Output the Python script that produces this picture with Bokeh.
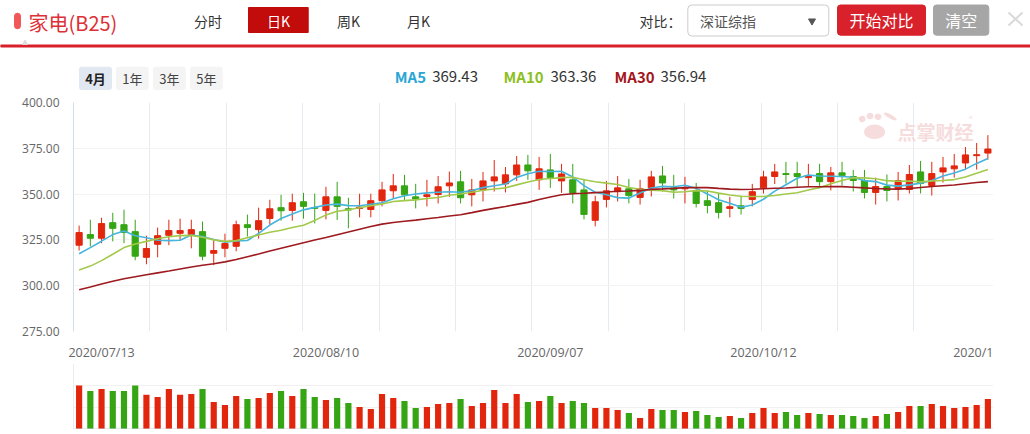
import numpy as np
from bokeh.plotting import figure
from bokeh.layouts import column
from bokeh.models import Range1d, FixedTicker, Span, ColumnDataSource, PrintfTickFormatter
from bokeh.embed import file_html
from bokeh.resources import INLINE
from bokeh.core.properties import value

# ---------------- data ----------------
tick_index = [2, 22, 42, 61, 81]
tick_labels = ["2020/07/13", "2020/08/10", "2020/09/07", "2020/10/12", "2020/1"]
price_ticks = [275, 300, 325, 350, 375, 400]

opens = [322.1, 327.9, 325.9, 334.4, 333.3, 329.5, 315.5, 322.6, 327.5, 328.6,
         327.9, 329.5, 317.7, 320.4, 321.5, 333.3, 330.6, 336.7, 342.6, 341.1,
         345.8, 342.7, 341.1, 348.5, 342.0, 342.2, 341.6, 346.4, 351.8, 354.5,
         348.5, 348.7, 349.8, 354.5, 356.7, 349.6, 352.3, 357.2, 355.6, 360.5,
         365.9, 357.8, 363.2, 357.2, 357.8, 352.3, 335.7, 347.1, 351.3, 352.9,
         348.2, 353.4, 359.9, 353.4, 352.9, 351.8, 346.4, 345.3, 342.2, 343.6,
         347.1, 353.4, 359.6, 361.2, 361.2, 359.0, 361.2, 356.8, 361.6, 359.6,
         357.4, 350.9, 354.1, 353.0, 352.5, 362.1, 354.7, 362.1, 363.8, 367.0,
         371.0, 372.4]
highs = [332.8, 336.0, 337.1, 339.8, 341.5, 336.0, 327.3, 331.7, 336.0, 336.6,
         336.0, 335.0, 325.2, 328.4, 335.5, 338.8, 342.6, 346.9, 349.6, 350.2,
         350.7, 350.3, 354.0, 356.7, 348.0, 350.2, 350.2, 356.7, 361.0, 360.5,
         355.6, 357.8, 359.9, 362.3, 362.7, 358.3, 362.1, 368.6, 364.8, 370.8,
         371.4, 370.3, 371.9, 366.5, 366.5, 358.3, 349.1, 357.2, 359.9, 358.3,
         357.8, 362.7, 365.4, 360.5, 359.4, 356.1, 351.8, 350.2, 348.5, 349.1,
         355.6, 362.7, 366.5, 367.6, 367.6, 366.5, 366.5, 364.8, 367.6, 363.2,
         363.2, 359.0, 360.7, 362.1, 365.9, 368.1, 367.6, 370.3, 371.9, 375.7,
         377.9, 382.2]
lows = [319.2, 321.4, 323.2, 324.2, 323.2, 313.9, 311.7, 315.5, 322.1, 324.8,
        320.4, 313.9, 311.2, 315.5, 318.8, 326.8, 325.7, 333.3, 335.5, 335.5,
        336.6, 334.0, 336.2, 335.9, 331.3, 337.3, 337.3, 343.3, 347.6, 346.7,
        342.2, 343.3, 344.9, 348.5, 344.9, 343.3, 346.0, 351.4, 350.9, 357.2,
        357.8, 352.3, 353.4, 350.7, 344.9, 336.2, 332.4, 342.7, 346.0, 344.9,
        344.3, 348.7, 351.4, 347.6, 344.9, 342.7, 339.5, 336.7, 337.3, 338.9,
        343.3, 350.3, 355.5, 355.8, 354.1, 354.1, 354.1, 352.0, 354.7, 351.4,
        347.6, 344.3, 346.0, 346.5, 350.3, 350.3, 349.2, 356.3, 359.0, 363.4,
        363.4, 368.8]
closes = [329.0, 325.9, 333.9, 331.3, 329.1, 316.1, 320.3, 327.3, 330.1, 330.1,
          330.6, 316.1, 319.2, 323.0, 333.3, 331.8, 335.5, 342.0, 340.9, 345.3,
          343.3, 342.2, 348.5, 343.3, 341.3, 342.9, 346.4, 352.3, 354.5, 349.6,
          347.3, 349.6, 354.0, 356.1, 348.0, 352.3, 357.2, 359.4, 360.5, 365.9,
          362.7, 363.8, 358.9, 361.0, 350.5, 338.9, 345.8, 351.8, 353.4, 349.2,
          352.9, 359.4, 356.1, 352.3, 353.4, 344.9, 343.8, 340.0, 343.1, 342.2,
          351.3, 359.4, 362.1, 360.7, 359.6, 360.1, 356.8, 361.6, 360.1, 357.4,
          350.9, 354.1, 352.0, 357.4, 360.7, 355.8, 361.2, 364.3, 365.4, 371.4,
          371.5, 374.6]
volumes = [131, 115, 121, 115, 115, 131, 104, 97, 121, 104,
           106, 121, 82, 73, 100, 91, 94, 109, 115, 100,
           121, 97, 88, 94, 79, 67, 61, 106, 94, 85,
           64, 67, 76, 79, 91, 70, 79, 118, 79, 106,
           82, 85, 100, 79, 85, 79, 64, 64, 58, 49,
           34, 61, 58, 58, 52, 55, 43, 37, 40, 34,
           49, 64, 49, 52, 43, 49, 46, 43, 43, 40,
           34, 40, 46, 52, 70, 70, 76, 70, 64, 67,
           73, 91]
# moving averages before enough closes are on screen
ma5_head = [317.4, 320.8, 324.3, 327.9]
ma10_head = [308.6, 310.7, 313.7, 317.2, 320.8, 322.8, 324.2, 325.6, 326.7]
ma30_head = [297.8, 299.3, 300.9, 302.4, 303.8, 304.9, 306.0, 307.0, 308.0, 309.1,
             310.2, 311.2, 312.0, 313.0, 314.3, 315.8, 317.3, 318.9, 320.4, 321.9,
             323.4, 324.9, 326.3, 327.8, 329.3, 330.8, 332.3, 333.6, 334.5]
legend_names = ["MA5", "MA10", "MA30"]
legend_values = ["369.43", "363.36", "356.94"]
period_buttons = ["4月", "1年", "3年", "5年"]
tabs = ["分时", "日K", "周K", "月K"]

# ---------------- style ----------------
CJK = "Noto Sans CJK SC"
RED = "#e2260d"
GREEN = "#35a514"
MA_COLORS = ["#45b5de", "#a3c94a", "#9e1a1f"]
LEGEND_COLORS = ["#2aa6d6", "#8dbf1f", "#a3161b"]
MARK = "#f6dcdc"


def moving_avg(vals, n, head):
    out = list(head)
    for i in range(n - 1, len(vals)):
        out.append(sum(vals[i - n + 1:i + 1]) / n)
    return out


def no_align(fig):
    try:
        fig.frame_align = False
    except Exception:
        pass


ma5 = moving_avg(closes, 5, ma5_head)
ma10 = moving_avg(closes, 10, ma10_head)
ma30 = moving_avg(closes, 30, ma30_head)

n = len(closes)
xs = list(range(n))
colors = [RED if c >= o else GREEN for o, c in zip(opens, closes)]
src = ColumnDataSource(dict(
    x=xs, o=opens, h=highs, l=lows, c=closes,
    top=[max(o, c) for o, c in zip(opens, closes)],
    bottom=[min(o, c) for o, c in zip(opens, closes)],
    color=colors, vol=volumes, ma5=ma5, ma10=ma10, ma30=ma30))

# ---------------- header (page pixel coordinates) ----------------
HDR_H = 93
hdr = figure(width=1030, height=HDR_H, x_range=Range1d(0, 1030), y_range=Range1d(HDR_H, 0),
             output_backend="svg", toolbar_location=None, min_border=0,
             outline_line_color=None)
no_align(hdr)
hdr.axis.visible = False
hdr.grid.visible = False


def txt(x, y, s, size, color, align="left", style="normal", font=CJK):
    hdr.text(x=[x], y=[y], text=[s], text_font=value(font), text_font_size=size,
             text_color=color, text_align=align, text_baseline="middle",
             text_font_style=style)


def box(l, r, t, b, fill, line=None, radius=0):
    hdr.quad(left=[l], right=[r], top=[t], bottom=[b], fill_color=fill,
             line_color=line if line else fill, line_width=1, border_radius=radius)


box(14, 20, 12.7, 28.3, "#f25757", radius=3)
txt(28, 22, "家电(B25)", "20px", "#dd2f35")
tab_x = [207.5, 278, 348, 418]
box(248, 307.7, 7, 32, "#c20b0b")
for tx, s in zip(tab_x, tabs):
    txt(tx, 20, s, "14px", "#ffffff" if s == "日K" else "#333333", align="center")

txt(639, 20, "对比：", "14px", "#333333")
box(687.3, 828.3, 4.5, 35.5, "#ffffff", line="#cccccc", radius=4)
txt(699.5, 20, "深证综指", "14px", "#555555")
hdr.scatter(x=[811.5], y=[20.5], marker="inverted_triangle", size=7,
            fill_color="#555555", line_color="#555555")
box(837, 925, 4.5, 34.7, "#d8212b", radius=3)
txt(881, 19.5, "开始对比", "16px", "#ffffff", align="center")
box(933, 988.3, 4.5, 34.7, "#a6a6a6", radius=3)
txt(960.7, 19.5, "清空", "16px", "#ffffff", align="center")
hdr.segment(x0=[1008, 1008], y0=[12, 25], x1=[1022, 1022], y1=[25, 12],
            line_color="#d9d9d9", line_width=2)
box(0, 1030, 44.5, 46.5, "#d8212b")
hdr.scatter(x=[24.5], y=[42.5], marker="triangle", size=5,
            fill_color="#dddddd", line_color="#dddddd")

btn_x = [(79, 111), (116, 147.7), (153, 184.7), (190, 221.7)]
for (l, r), s in zip(btn_x, period_buttons):
    first = s == period_buttons[0]
    box(l, r, 66.7, 89, "#e2e8f2" if first else "#f4f4f4", radius=2)
    txt((l + r) / 2, 78, s, "13px", "#222222" if first else "#444444", align="center",
        style="bold" if first else "normal")

leg_x = [(394.3, 431.7), (503, 550), (614, 660)]
for (nx, vx), name, val, col in zip(leg_x, legend_names, legend_values, LEGEND_COLORS):
    txt(nx, 75.5, name, "15px", col, style="bold")
    txt(vx, 75.5, val, "15px", "#333333")

# ---------------- price chart ----------------
p = figure(frame_width=920, frame_height=229, x_range=Range1d(-0.5, n - 0.5),
           y_range=Range1d(275, 400),
           output_backend="svg", toolbar_location=None, min_border_left=73,
           min_border_right=0, min_border_top=9, min_border_bottom=30,
           outline_line_color=None, background_fill_color="#ffffff")
no_align(p)

p.xaxis.ticker = FixedTicker(ticks=tick_index)
p.xaxis.major_label_overrides = {i: s for i, s in zip(tick_index, tick_labels)}
p.xaxis.axis_line_color = None
p.xaxis.major_tick_line_color = None
p.xaxis.minor_tick_line_color = None
p.xaxis.major_tick_out = 0
p.xaxis.major_tick_in = 0
p.xaxis.minor_tick_out = 0
p.xaxis.major_label_standoff = 12
p.xaxis.major_label_text_font = "Open Sans"
p.xaxis.major_label_text_font_size = "12.5px"
p.xaxis.major_label_text_color = "#666666"

p.yaxis.ticker = FixedTicker(ticks=price_ticks)
p.yaxis.formatter = PrintfTickFormatter(format="%.2f")
p.yaxis.axis_line_color = "#d3dbe6"
p.yaxis.major_tick_line_color = None
p.yaxis.minor_tick_line_color = None
p.yaxis.major_tick_out = 0
p.yaxis.major_tick_in = 0
p.yaxis.minor_tick_out = 0
p.yaxis.major_label_standoff = 14
p.yaxis.major_label_text_font = "Open Sans"
p.yaxis.major_label_text_font_size = "12px"
p.yaxis.major_label_text_color = "#666666"

grid_step = 6.81
p.xgrid.ticker = FixedTicker(ticks=[-0.5 + grid_step * k for k in range(1, 12)] + [n - 0.5])
p.xgrid.grid_line_color = "#e6ebf2"
p.ygrid.grid_line_color = "#f3f3f3"

# watermark logo "点掌财经"
p.ellipse(x=[70.9], y=[384.0], width=1.9, height=8.0, fill_color=MARK, line_color=None)
p.ellipse(x=[69.8, 70.5, 71.2], y=[391.0, 392.6, 392.2], width=0.6, height=3.4,
          angle=[0.3, 0.1, -0.2], fill_color=MARK, line_color=None)
p.ellipse(x=[72.3], y=[392.4], width=1.3, height=2.2, angle=-0.5, fill_color=MARK,
          line_color=None)
p.text(x=[72.95], y=[384.2], text=["点掌财经"], text_font=value(CJK), text_font_size="19px",
       text_font_style="bold", text_color=MARK, text_baseline="middle")
p.text(x=[79.3], y=[391.5], text=["®"], text_font=value(CJK), text_font_size="8px",
       text_color=MARK, text_baseline="middle")

p.segment(x0="x", y0="l", x1="x", y1="h", line_color="color", line_width=1, source=src)
p.vbar(x="x", width=0.55, top="top", bottom="bottom", fill_color="color",
       line_color="color", line_width=1, source=src)
for key, col in zip(["ma5", "ma10", "ma30"], MA_COLORS):
    p.line(x="x", y=key, line_color=col, line_width=1.6, source=src)

# ---------------- volume chart ----------------
vmax = 197
v = figure(frame_width=920, frame_height=66, x_range=Range1d(-0.5, n - 0.5),
           y_range=Range1d(0, vmax),
           output_backend="svg", toolbar_location=None, min_border_left=73,
           min_border_right=0, min_border_top=0, min_border_bottom=0,
           outline_line_color=None)
no_align(v)
v.axis.visible = False
v.xgrid.visible = False
v.ygrid.ticker = FixedTicker(ticks=[vmax / 3, 2 * vmax / 3, vmax])
v.ygrid.grid_line_color = "#f1f1f1"
v.add_layout(Span(location=-0.5, dimension="height", line_color="#d3dbe6", line_width=1))
v.add_layout(Span(location=0, dimension="width", line_color="#cdd5df", line_width=2))
v.vbar(x="x", width=0.55, top="vol", bottom=0, fill_color="color", line_color=None,
       source=src)

layout = column(hdr, p, v, spacing=0)
open("out.html", "w").write(file_html(layout, INLINE))
